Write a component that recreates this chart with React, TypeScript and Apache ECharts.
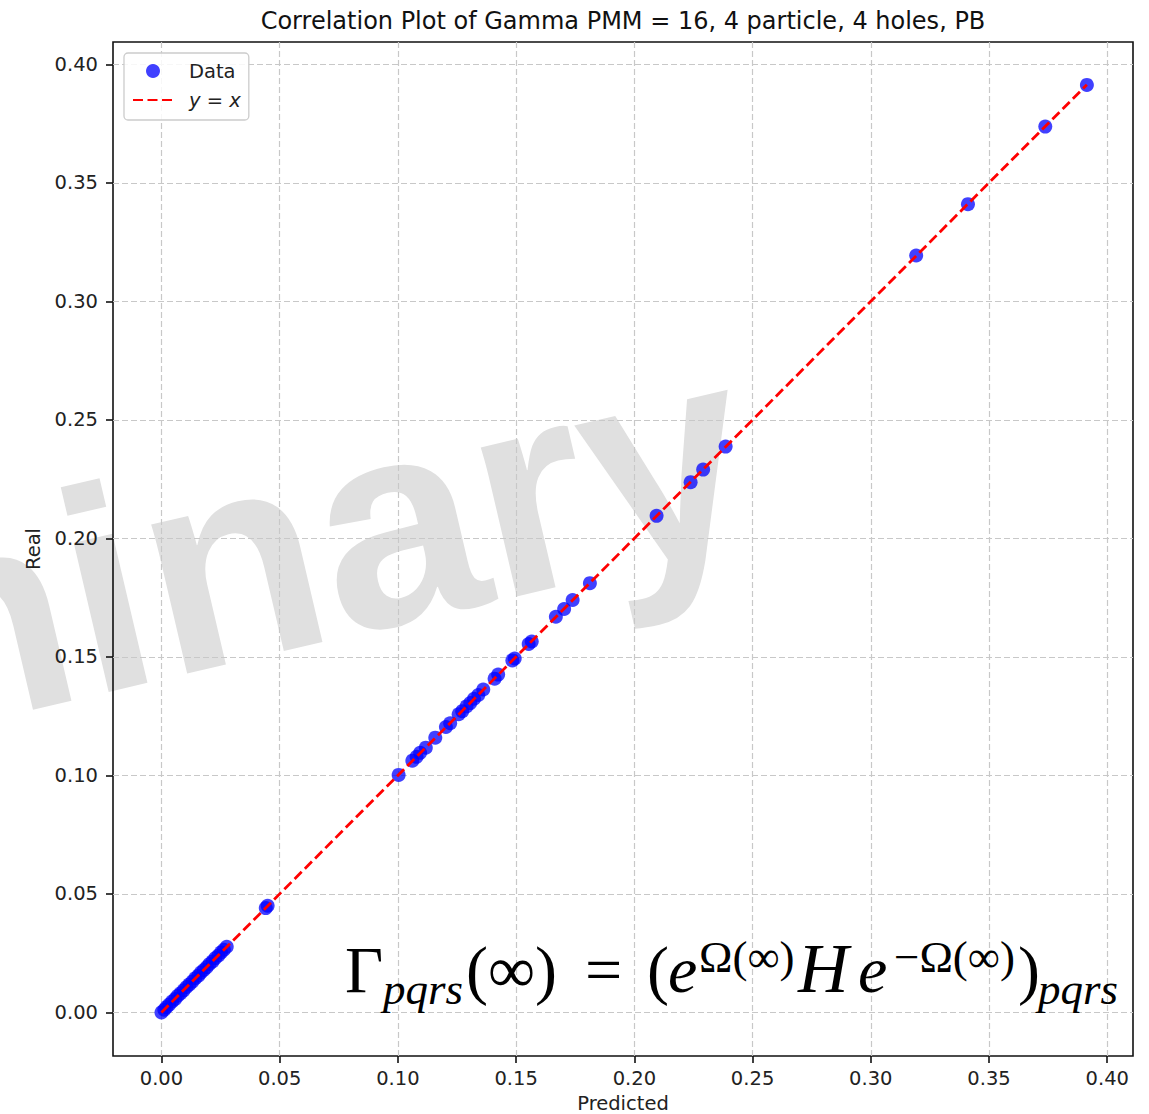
import React, { useEffect, useRef } from "react";
import * as echarts from "echarts";

const titleText = "Correlation Plot of Gamma PMM = 16, 4 particle, 4 holes, PB";

const predicted = [
  0.0, 0.0012, 0.0021, 0.0033, 0.0045, 0.0058, 0.0069, 0.0081, 0.0094, 0.0106,
  0.0118, 0.0131, 0.0143, 0.0156, 0.0167, 0.0179, 0.0192, 0.0203, 0.0216, 0.0228,
  0.0241, 0.0252, 0.0264, 0.0276, 0.0441, 0.0449, 0.1003, 0.1061, 0.1079, 0.1094,
  0.1118, 0.1158, 0.1203, 0.1221, 0.1257, 0.1272, 0.1290, 0.1306, 0.1322, 0.1340,
  0.1361, 0.1409, 0.1424, 0.1484, 0.1494, 0.1553, 0.1566, 0.1668, 0.1703, 0.1739,
  0.1812, 0.2094, 0.2238, 0.2291, 0.2386, 0.3192, 0.3411, 0.3738, 0.3914,
];
const real = [
  0.0, 0.0011, 0.0022, 0.0033, 0.0046, 0.0057, 0.0070, 0.0081, 0.0093, 0.0107,
  0.0118, 0.0130, 0.0144, 0.0155, 0.0168, 0.0179, 0.0191, 0.0204, 0.0215, 0.0229,
  0.0240, 0.0253, 0.0264, 0.0277, 0.0440, 0.0450, 0.1002, 0.1062, 0.1078, 0.1095,
  0.1117, 0.1159, 0.1204, 0.1220, 0.1258, 0.1271, 0.1291, 0.1305, 0.1323, 0.1339,
  0.1362, 0.1408, 0.1425, 0.1485, 0.1493, 0.1554, 0.1565, 0.1669, 0.1702, 0.1740,
  0.1811, 0.2095, 0.2237, 0.2290, 0.2387, 0.3193, 0.3410, 0.3737, 0.3913,
];

const xTicks = [0, 0.05, 0.1, 0.15, 0.2, 0.25, 0.3, 0.35, 0.4];
const yTicks = [0, 0.05, 0.1, 0.15, 0.2, 0.25, 0.3, 0.35, 0.4];

const seriesNames = ["Data", "y = x"];

const SANS = "DejaVu Sans";
const SERIF = "Liberation Serif";

export default function App() {
  const ref = useRef<HTMLDivElement>(null);
  useEffect(() => {
    document.body.style.margin = "0";
    if (!ref.current) return;
    const chart = echarts.init(ref.current, undefined, { renderer: "svg" });

    const ctx = document.createElement("canvas").getContext("2d")!;
    ctx.font = `24px "${SANS}"`;
    const tw = ctx.measureText(titleText).width;

    const lo = Math.min(...predicted, ...real);
    const hi = Math.max(...predicted, ...real);

    const mainSize = 66;
    const subSize = 45;
    const mid = (baseline: number, size: number) => baseline - 0.3375 * size;
    const piece = (
      text: string,
      x: number,
      baseline: number,
      size: number,
      italic: boolean
    ) => ({
      type: "text",
      x,
      y: mid(baseline, size),
      z: 10,
      style: {
        text,
        fill: "#000",
        font: `${italic ? "italic " : ""}${size}px "${SERIF}"`,
        align: "left",
        verticalAlign: "middle",
      },
    });

    const baseMain = 992;
    const baseSub = 1004;
    const baseSup = 972;

    const wmSize = 290;
    const wmAngle = (13.2 * Math.PI) / 180;
    const wmOff = 0.3465 * wmSize;
    const wmX = 764 - Math.sin(wmAngle) * wmOff;
    const wmY = 538 - Math.cos(wmAngle) * wmOff;

    const tickLabel = {
      fontSize: 19.5,
      fontFamily: SANS,
      color: "#222",
    };

    chart.setOption({
      animation: false,
      backgroundColor: "#fff",
      title: {
        text: titleText,
        left: 623 - tw / 2,
        top: 9,
        padding: 0,
        textStyle: {
          fontSize: 24,
          fontWeight: "normal",
          fontFamily: SANS,
          color: "#111",
        },
      },
      legend: {
        data: [
          { name: seriesNames[0] },
          {
            name: seriesNames[1],
            itemStyle: { color: "rgba(0,0,0,0)", opacity: 0, borderWidth: 0 },
          },
        ],
        orient: "vertical",
        left: 124,
        top: 53,
        padding: [8, 8, 10, 8],
        itemWidth: 40,
        itemHeight: 14,
        itemGap: 9,
        backgroundColor: "rgba(255,255,255,0.85)",
        borderColor: "#cccccc",
        borderWidth: 1.3,
        borderRadius: 4,
        z: 5,
        formatter: (name: string) =>
          name === "y = x" ? "{it|y} = {it|x}" : name,
        textStyle: {
          fontSize: 19.5,
          fontFamily: SANS,
          color: "#222",
          padding: [0, 0, 0, 11],
          rich: {
            it: {
              fontSize: 19.5,
              fontFamily: SANS,
              fontStyle: "italic",
              color: "#222",
            },
          },
        },
      },
      grid: {
        left: 113,
        top: 42,
        width: 1020,
        height: 1014,
        show: true,
        borderColor: "#111",
        borderWidth: 1.6,
        outerBoundsMode: "none",
        containLabel: false,
        z: 1,
      },
      xAxis: {
        type: "value",
        min: -0.0205,
        max: 0.4109,
        minInterval: 0.05,
        maxInterval: 0.05,
        z: 1,
        name: "Predicted",
        nameLocation: "middle",
        nameGap: 37,
        nameTextStyle: { fontSize: 19.5, fontFamily: SANS, color: "#222" },
        axisLine: { show: false, onZero: false },
        axisTick: {
          show: true,
          length: 7,
          customValues: xTicks,
          lineStyle: { color: "#111", width: 1.6 },
        },
        axisLabel: {
          ...tickLabel,
          margin: 12,
          customValues: xTicks,
          formatter: (v: number) => v.toFixed(2),
        },
        splitLine: {
          show: true,
          lineStyle: { color: "#c8c8c8", width: 1.2, type: [6, 3] },
        },
      },
      yAxis: {
        type: "value",
        min: -0.0184,
        max: 0.4094,
        minInterval: 0.05,
        maxInterval: 0.05,
        z: 1,
        name: "Real",
        nameLocation: "middle",
        nameGap: 66,
        nameTextStyle: { fontSize: 19.5, fontFamily: SANS, color: "#222" },
        axisLine: { show: false, onZero: false },
        axisTick: {
          show: true,
          length: 7,
          customValues: yTicks,
          lineStyle: { color: "#111", width: 1.6 },
        },
        axisLabel: {
          ...tickLabel,
          margin: 15,
          customValues: yTicks,
          formatter: (v: number) => v.toFixed(2),
        },
        splitLine: {
          show: true,
          lineStyle: { color: "#c8c8c8", width: 1.2, type: [6, 3] },
        },
      },
      graphic: [
        {
          type: "text",
          x: wmX,
          y: wmY,
          rotation: wmAngle,
          z: -1,
          silent: true,
          style: {
            text: "Preliminary",
            fill: "#e0e0e0",
            font: `bold ${wmSize}px "Liberation Sans"`,
            align: "right",
            verticalAlign: "middle",
          },
        },
        piece("Γ", 345, baseMain, mainSize, false),
        piece("pqrs", 383, baseSub, subSize, true),
        piece("(∞)", 466, baseMain, mainSize, false),
        piece("=", 585, baseMain, mainSize, false),
        piece("(", 647, baseMain, mainSize, false),
        piece("e", 668, baseMain, mainSize, true),
        piece("Ω(∞)", 699, baseSup, subSize, false),
        piece("H", 798, baseMain, 70, true),
        piece("e", 858, baseMain, mainSize, true),
        piece("−Ω(∞)", 894, baseSup, subSize, false),
        piece(")", 1018, baseMain, mainSize, false),
        piece("pqrs", 1038, baseSub, subSize, true),
      ],
      series: [
        {
          type: "scatter",
          name: "Data",
          data: predicted.map((p, i) => [p, real[i]]),
          symbol: "circle",
          symbolSize: 14,
          itemStyle: { color: "#0000ff", opacity: 0.75 },
          z: 2,
        },
        {
          type: "line",
          name: "y = x",
          data: [
            [lo, lo],
            [hi, hi],
          ],
          symbol: "none",
          lineStyle: { color: "#ff0000", width: 2.8, type: [10, 4.5] },
          itemStyle: { color: "#ff0000" },
          z: 3,
        },
      ],
    });
    return () => chart.dispose();
  }, []);
  return <div ref={ref} style={{ width: 1149, height: 1114 }} />;
}
